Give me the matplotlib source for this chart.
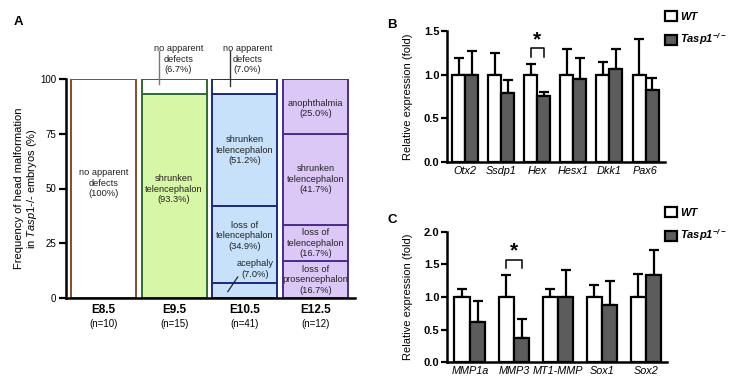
"""
Head malformation frequencies (A) and qPCR expression of Tasp1 mutants (B, C)
"""
import numpy as np
import matplotlib
matplotlib.use('Agg')
import matplotlib.pyplot as plt

plt.rcParams['font.family'] = ['Liberation Sans', 'DejaVu Sans']
plt.rcParams['mathtext.fontset'] = 'custom'
plt.rcParams['mathtext.rm'] = 'Liberation Sans'
plt.rcParams['mathtext.it'] = 'Liberation Sans:italic'
plt.rcParams['mathtext.bf'] = 'Liberation Sans:bold:italic'

# ---- panel A data (stacked, bottom -> top) ----
stages = ['E8.5', 'E9.5', 'E10.5', 'E12.5']
n_embryos = [10, 15, 41, 12]
e85_pct = [100.0]
e95_pct = [93.3, 6.7]
e105_pct = [7.0, 34.9, 51.2, 7.0]
e125_pct = [16.7, 16.7, 41.7, 25.0]
e85_labels = ['no apparent\ndefects\n(100%)']
e95_labels = ['shrunken\ntelencephalon\n(93.3%)', None]
e105_labels = [None, 'loss of\ntelencephalon\n(34.9%)', 'shrunken\ntelencephalon\n(51.2%)', None]
e125_labels = ['loss of\nprosencephalon\n(16.7%)', 'loss of\ntelencephalon\n(16.7%)',
               'shrunken\ntelencephalon\n(41.7%)', 'anophthalmia\n(25.0%)']

# ---- panel B data ----
genes_b = ['Otx2', 'Ssdp1', 'Hex', 'Hesx1', 'Dkk1', 'Pax6']
wt_b = [1.0, 1.0, 1.0, 1.0, 1.0, 1.0]
wt_b_err = [0.19, 0.25, 0.12, 0.29, 0.14, 0.40]
ko_b = [0.99, 0.79, 0.76, 0.95, 1.06, 0.82]
ko_b_err = [0.28, 0.15, 0.045, 0.24, 0.23, 0.14]

# ---- panel C data ----
genes_c = ['MMP1a', 'MMP3', 'MT1-MMP', 'Sox1', 'Sox2']
wt_c = [1.0, 1.0, 1.0, 1.0, 1.0]
wt_c_err = [0.12, 0.33, 0.13, 0.18, 0.35]
ko_c = [0.61, 0.37, 1.0, 0.87, 1.34]
ko_c_err = [0.33, 0.30, 0.42, 0.375, 0.38]

edge_colors = ['#8a4b2c', '#2f6a33', '#1c2a82', '#4a2d8e']
fill_colors = ['#ffffff', '#d8f7a6', '#c8e1fa', '#dcc8f6']
top_white = [False, True, True, False]

fig = plt.figure(figsize=(7.29, 3.87), dpi=100)

# ================= panel A =================
axA = fig.add_axes([66 / 729, 1 - 298 / 387, 289 / 729, 219 / 387])
all_pct = [e85_pct, e95_pct, e105_pct, e125_pct]
all_labels = [e85_labels, e95_labels, e105_labels, e125_labels]
label_shift = {(0, 0): 2.5, (1, 0): 3.0, (2, 1): 4.0, (3, 3): -1.0}
width = 0.92
txt_size = 6.7
for i, (pcts, labs) in enumerate(zip(all_pct, all_labels)):
    bottom = 0.0
    for j, (p, lab) in enumerate(zip(pcts, labs)):
        fc = fill_colors[i]
        if top_white[i] and j == len(pcts) - 1:
            fc = '#ffffff'
        axA.bar(i, min(p, 100 - bottom), width=width, bottom=bottom, color=fc,
                edgecolor=edge_colors[i], linewidth=1.4, zorder=2)
        if lab is not None:
            axA.text(i, bottom + p / 2 + label_shift.get((i, j), 0.0), lab,
                     ha='center', va='center', fontsize=txt_size, color='#222222',
                     linespacing=1.2, zorder=4)
        bottom += p

# callouts for small segments
axA.plot([0.79, 0.79], [97.5, 113], color='#777777', lw=1.0, clip_on=False, zorder=5)
axA.text(1.06, 109, 'no apparent\ndefects\n(6.7%)', ha='center', va='center',
         fontsize=txt_size, color='#222222', linespacing=1.2, clip_on=False)
axA.plot([1.79, 1.79], [97.0, 113], color='#333333', lw=1.0, clip_on=False, zorder=5)
axA.text(2.04, 109, 'no apparent\ndefects\n(7.0%)', ha='center', va='center',
         fontsize=txt_size, color='#222222', linespacing=1.2, clip_on=False)
axA.plot([1.76, 1.90], [2.9, 9.6], color='#222222', lw=0.9, zorder=5)
axA.text(2.15, 13.2, 'acephaly\n(7.0%)', ha='center', va='center',
         fontsize=txt_size, color='#222222', linespacing=1.2, zorder=5)

axA.set_xlim(-0.53, 3.56)
axA.set_ylim(0, 100)
axA.set_yticks([0, 25, 50, 75, 100])
axA.set_xticks(range(len(stages)))
axA.set_xticklabels(stages, fontsize=8.5, fontweight='bold')
axA.tick_params(axis='x', length=0, pad=4)
axA.tick_params(axis='y', length=5, width=1.6, labelsize=7, pad=2)
for i, n in enumerate(n_embryos):
    axA.text(i, -0.118, f'(n={n})', transform=axA.get_xaxis_transform(),
             ha='center', va='center', fontsize=7)
for s in ['top', 'right']:
    axA.spines[s].set_visible(False)
for s in ['left', 'bottom']:
    axA.spines[s].set_linewidth(1.8)
axA.set_ylabel('Frequency of head malformation\nin $\\mathit{Tasp1}$-/- embryos (%)',
               fontsize=8, linespacing=1.05)
axA.yaxis.set_label_coords(-0.095, 0.5)


# ================= panels B and C =================
def expression_panel(rect, genes, wt, wt_err, ko, ko_err, ymax, yticks, bw, xlim):
    ax = fig.add_axes(rect)
    x = np.arange(len(genes))
    ax.errorbar(x - bw / 2, wt, yerr=[np.zeros(len(wt)), wt_err], fmt='none',
                ecolor='black', elinewidth=1.6, capsize=3.5, capthick=1.6, zorder=1)
    ax.errorbar(x + bw / 2, ko, yerr=[np.zeros(len(ko)), ko_err], fmt='none',
                ecolor='black', elinewidth=1.6, capsize=3.5, capthick=1.6, zorder=1)
    ax.bar(x - bw / 2, wt, width=bw, color='white', edgecolor='black',
           linewidth=1.6, label='WT', zorder=2)
    ax.bar(x + bw / 2, ko, width=bw, color='#5c5c5c', edgecolor='black',
           linewidth=1.6, label='Tasp1$^{\\mathbf{-/-}}$', zorder=2)
    ax.set_xlim(*xlim)
    ax.set_ylim(0, ymax)
    ax.set_yticks(yticks)
    ax.set_yticklabels([f'{t:.1f}' for t in yticks], fontweight='bold', fontsize=8)
    ax.set_xticks(x)
    ax.set_xticklabels(genes, fontstyle='italic', fontsize=7.8)
    ax.tick_params(axis='x', length=0, pad=3)
    ax.tick_params(axis='y', length=4, width=1.6, pad=1.5)
    for s in ['top', 'right']:
        ax.spines[s].set_visible(False)
    for s in ['left', 'bottom']:
        ax.spines[s].set_linewidth(1.8)
    ax.set_ylabel('Relative expression (fold)', fontsize=8)
    ax.yaxis.set_label_coords(-0.155, 0.5)
    return ax


def sig_bracket(ax, i, bw, y_top, y_leg, y_star):
    xs = [i - bw / 2, i - bw / 2, i + bw / 2, i + bw / 2]
    ax.plot(xs, [y_leg, y_top, y_top, y_leg], color='black', lw=1.1)
    ax.text(i, y_star, '*', ha='center', va='center', fontsize=15, fontweight='bold')


bw_b = 0.36
axB = expression_panel([447 / 729, 1 - 162.3 / 387, 218 / 729, 131.6 / 387],
                       genes_b, wt_b, wt_b_err, ko_b, ko_b_err, 1.5,
                       [0.0, 0.5, 1.0, 1.5], bw_b, (-0.5, 5.54))
sig_bracket(axB, genes_b.index('Hex'), bw_b, 1.30, 1.20, 1.40)

bw_c = 0.35
axC = expression_panel([447 / 729, 1 - 362.3 / 387, 219.7 / 729, 130.6 / 387],
                       genes_c, wt_c, wt_c_err, ko_c, ko_c_err, 2.0,
                       [0.0, 0.5, 1.0, 1.5, 2.0], bw_c, (-0.52, 4.47))
sig_bracket(axC, genes_c.index('MMP3'), bw_c, 1.56, 1.45, 1.70)

for ax, top in [(axB, 1 - 7 / 387), (axC, 1 - 203 / 387)]:
    ax.legend(loc='upper left', bbox_to_anchor=(661 / 729, top),
              bbox_transform=fig.transFigure, frameon=False,
              prop={'weight': 'bold', 'style': 'italic', 'size': 8},
              handlelength=1.0, handleheight=1.0, handletextpad=0.35,
              labelspacing=0.85, borderaxespad=0)

fig.text(14 / 729, 1 - 22 / 387, 'A', fontsize=9.5, fontweight='bold', va='center')
fig.text(387 / 729, 1 - 25 / 387, 'B', fontsize=9.5, fontweight='bold', va='center')
fig.text(387 / 729, 1 - 220 / 387, 'C', fontsize=9.5, fontweight='bold', va='center')

fig.savefig('out.png', dpi=100)
